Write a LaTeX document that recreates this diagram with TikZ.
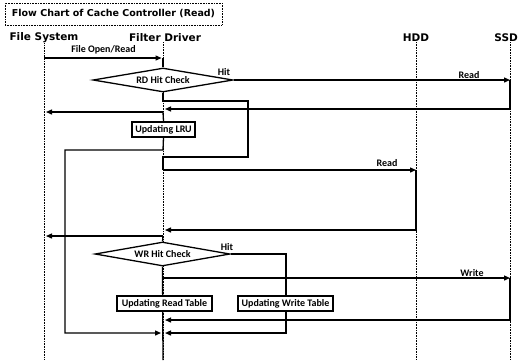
\documentclass[tikz,border=0pt]{standalone}
\usepackage{fontspec}
\setmainfont{Carlito}
\newfontfamily\hdrfont{DejaVu Sans}
\usetikzlibrary{shapes.geometric,arrows.meta}
\pgfdeclarelayer{bg}
\pgfsetlayers{bg,main}
\begin{document}
\begin{tikzpicture}[x=1pt,y=-1pt,
  life/.style={line width=0.6pt, densely dotted},
  flow/.style={line width=1.3pt, line join=miter},
  arr/.style={flow,-{Triangle[length=6pt,width=5pt]}},
  hdr/.style={font=\hdrfont\bfseries\fontsize{10.5}{12}\selectfont, inner sep=0pt},
  lbl/.style={font=\bfseries\fontsize{10}{11}\selectfont, inner sep=0pt},
  boxn/.style={draw, line width=1.3pt, fill=white, font=\bfseries\fontsize{10}{11}\selectfont, inner sep=1.5pt, minimum height=15pt},
  dec/.style={draw, diamond, aspect=5.8, line width=1.3pt, fill=white, inner sep=0pt, minimum height=24pt, font=\bfseries\fontsize{10}{11}\selectfont},
]
\useasboundingbox (0,0) rectangle (518,360);
% title
\node[draw, densely dotted, line width=0.6pt, minimum width=217pt, minimum height=22pt, inner sep=0pt,
  font=\hdrfont\bfseries\fontsize{9.5}{11}\selectfont] (title) at (113.5,14) {Flow Chart of Cache Controller (Read)};
% headers
\node[hdr] (fs) at (44,38) {File System};
\node[hdr] (fd) at (165,38) {Filter Driver};
\node[hdr] (hdd) at (416,38) {HDD};
\node[hdr, anchor=east] (ssd) at (518,38) {SSD};
\coordinate (fsE) at (44,360);
\coordinate (fdE) at (163,360);
\coordinate (hddE) at (416,360);
\coordinate (ssdE) at (510,360);
% nodes
\node[dec, minimum width=140pt] (rd) at (163,80) {RD Hit Check};
\node[boxn, minimum width=63pt] (lru) at (163.5,129.5) {Updating LRU};
\node[dec, minimum width=135pt] (wr) at (162.5,254) {WR Hit Check};
\node[boxn, minimum width=95pt] (rt) at (164.5,303.5) {Updating Read Table};
\node[boxn, minimum width=95pt] (wt) at (285.5,303.5) {Updating Write Table};
% coordinates
\coordinate (a1) at (44,58);
\coordinate (a2) at (163,58);
\coordinate (s1) at (510,80);
\coordinate (s2) at (510,109);
\coordinate (f109) at (163,109);
\coordinate (b1) at (163,101);
\coordinate (b2) at (248,101);
\coordinate (b3) at (248,157);
\coordinate (b4) at (163,157);
\coordinate (b5) at (163,170);
\coordinate (h1) at (416,170);
\coordinate (h2) at (416,230);
\coordinate (f230) at (163,230);
\coordinate (f112) at (163,112);
\coordinate (fs112) at (44,112);
\coordinate (l1) at (163,150);
\coordinate (l2) at (65,150);
\coordinate (l3) at (65,333);
\coordinate (f333) at (163,333);
\coordinate (f236) at (163,236);
\coordinate (fs236) at (44,236);
\coordinate (w1) at (286,254);
\coordinate (w2) at (286,333);
\coordinate (f278) at (163,278);
\coordinate (s3) at (510,278);
\coordinate (s4) at (510,320);
\coordinate (f320) at (163,320);
\begin{pgfonlayer}{bg}
% lifelines
\draw[life] (fs.south -| fsE) -- (fsE);
\draw[life] (fd.south -| fdE) -- (fdE);
\draw[life] (hdd.south -| hddE) -- (hddE);
\draw[life] (ssd.south -| ssdE) -- (ssdE);
% flows
\draw[arr, shorten >=1.5pt] (a1) -- node[lbl, above=3pt] (lopen) {File Open/Read} (a2);
\draw[flow] (a2) -- (rd.north);
\draw[arr] (rd.east) -- (s1);
\draw[arr, shorten >=2pt] (s1) -- (s2) -- (f109);
\draw[flow] (rd.south) -- (b1) -- (b2) -- (b3) -- (b4) -- (b5);
\draw[arr] (b5) -- (h1);
\draw[arr, shorten >=2pt] (h1) -- (h2) -- (f230);
\draw[arr, shorten >=2pt] (f112) -- (fs112);
\draw[flow] (f112) -- (lru.north);
\draw[arr, shorten >=2pt] (lru.south) -- (l1) -- (l2) -- (l3) -- (f333);
\draw[arr, shorten >=2pt] (f236) -- (fs236);
\draw[flow] (f236) -- (wr.north);
\draw[arr, shorten >=2pt] (wr.east) -- (w1) -- (w2) -- (f333);
\draw[flow] (wr.south) -- (fdE);
\draw[arr] (f278) -- (s3);
\draw[arr, shorten >=2pt] (s3) -- (s4) -- (f320);
\end{pgfonlayer}
% labels
\node[lbl] (hit1) at (224,72) {Hit};
\node[lbl] (read1) at (469,75) {Read};
\node[lbl] (read2) at (387,163) {Read};
\node[lbl] (hit2) at (227,247) {Hit};
\node[lbl] (write) at (472,273) {Write};
\end{tikzpicture}
\end{document}
